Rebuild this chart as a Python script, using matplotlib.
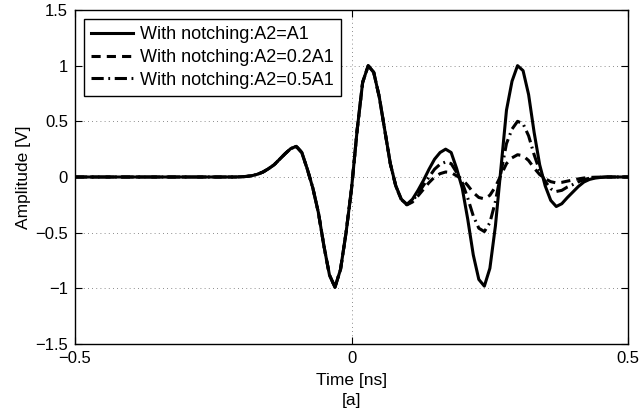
import matplotlib
matplotlib.use("Agg")
import matplotlib.pyplot as plt

plt.rcParams['font.family'] = ['Liberation Sans', 'DejaVu Sans']

# time axis [ns]
time_ns = [-0.50, -0.22, -0.21, -0.20, -0.19, -0.18, -0.17, -0.16, -0.15, -0.14,
           -0.13, -0.12, -0.11, -0.10, -0.09, -0.08, -0.07, -0.06, -0.05, -0.04,
           -0.03, -0.02, -0.01, 0.00, 0.01, 0.02, 0.03, 0.04, 0.05, 0.06,
           0.07, 0.08, 0.09, 0.10, 0.11, 0.12, 0.13, 0.14, 0.15, 0.16,
           0.17, 0.18, 0.19, 0.20, 0.21, 0.22, 0.23, 0.24, 0.25, 0.26,
           0.27, 0.28, 0.29, 0.30, 0.31, 0.32, 0.33, 0.34, 0.35, 0.36,
           0.37, 0.38, 0.39, 0.40, 0.41, 0.42, 0.43, 0.44, 0.45, 0.46,
           0.50]

# part shared by all three curves (t <= 0.07)
head = [0.0, 0.0, 0.0, 0.002, 0.005, 0.012, 0.025, 0.045, 0.075, 0.11,
        0.16, 0.21, 0.255, 0.275, 0.22, 0.07, -0.10, -0.32, -0.62, -0.88,
        -0.99, -0.83, -0.50, -0.10, 0.42, 0.85, 1.00, 0.94, 0.72, 0.42,
        0.12]

a2_equal = head + [-0.08, -0.20, -0.245, -0.20, -0.12, -0.03, 0.07, 0.16, 0.22,
                   0.25, 0.22, 0.075, -0.10, -0.38, -0.70, -0.92, -0.98, -0.82, -0.44,
                   0.08, 0.60, 0.86, 1.00, 0.955, 0.74, 0.40, 0.11, -0.08, -0.21,
                   -0.265, -0.24, -0.185, -0.135, -0.085, -0.045, -0.022, -0.01, -0.004, 0.0,
                   0.0]

a2_02 = head + [-0.085, -0.205, -0.25, -0.225, -0.17, -0.11, -0.05, 0.0, 0.03,
                0.045, 0.04, 0.01, -0.02, -0.076, -0.14, -0.184, -0.196, -0.164, -0.088,
                0.016, 0.12, 0.172, 0.20, 0.191, 0.148, 0.08, 0.022, -0.016, -0.042,
                -0.053, -0.048, -0.037, -0.027, -0.017, -0.009, -0.004, -0.002, -0.001, 0.0,
                0.0]

a2_05 = head + [-0.082, -0.203, -0.248, -0.215, -0.15, -0.075, 0.0, 0.07, 0.115,
                0.135, 0.12, 0.04, -0.05, -0.19, -0.35, -0.46, -0.49, -0.41, -0.22,
                0.04, 0.30, 0.43, 0.50, 0.478, 0.37, 0.20, 0.055, -0.04, -0.105,
                -0.13, -0.12, -0.09, -0.068, -0.043, -0.023, -0.011, -0.005, -0.002, 0.0,
                0.0]

labels = ['With notching:A2=A1', 'With notching:A2=0.2A1', 'With notching:A2=0.5A1']

fig = plt.figure(figsize=(6.41, 4.15), dpi=100)
ax = fig.add_axes([0.117, 0.171, 0.863, 0.805])

ax.plot(time_ns, a2_equal, color='black', linestyle='-', linewidth=2.2, label=labels[0])
ax.plot(time_ns, a2_02, color='black', linestyle=(0, (3, 2)), linewidth=2.2, label=labels[1])
ax.plot(time_ns, a2_05, color='black', linestyle=(0, (4, 1.5, 0.6, 1.5)), linewidth=2.2, label=labels[2])

ax.set_xlim(-0.5, 0.5)
ax.set_ylim(-1.5, 1.5)
ax.set_xticks([-0.5, 0, 0.5])
ax.set_yticks([-1.5, -1, -0.5, 0, 0.5, 1, 1.5])
ax.set_xticklabels(['\u22120.5', '0', '0.5'])
ax.set_yticklabels(['\u22121.5', '\u22121', '\u22120.5', '0', '0.5', '1', '1.5'])
ax.tick_params(direction='in', top=True, right=True, labelsize=12, length=5)
ax.tick_params(axis='x', pad=5)
ax.tick_params(axis='y', pad=5)
ax.grid(True, color='black', linestyle=(0, (1, 4)), linewidth=0.6, alpha=0.6)
for s in ax.spines.values():
    s.set_linewidth(1.0)

ax.set_xlabel('Time [ns]\n[a]', fontsize=12.5, labelpad=5, linespacing=1.4)
ax.set_ylabel('Amplitude [V]', fontsize=12.5, labelpad=3)

leg = ax.legend(loc='upper left', fontsize=13, frameon=True, fancybox=False,
                edgecolor='black', framealpha=1, handlelength=2.3,
                borderaxespad=0.5, labelspacing=0.32, borderpad=0.4, handletextpad=0.4)
leg.get_frame().set_linewidth(1.0)

fig.savefig('out.png', dpi=100)
